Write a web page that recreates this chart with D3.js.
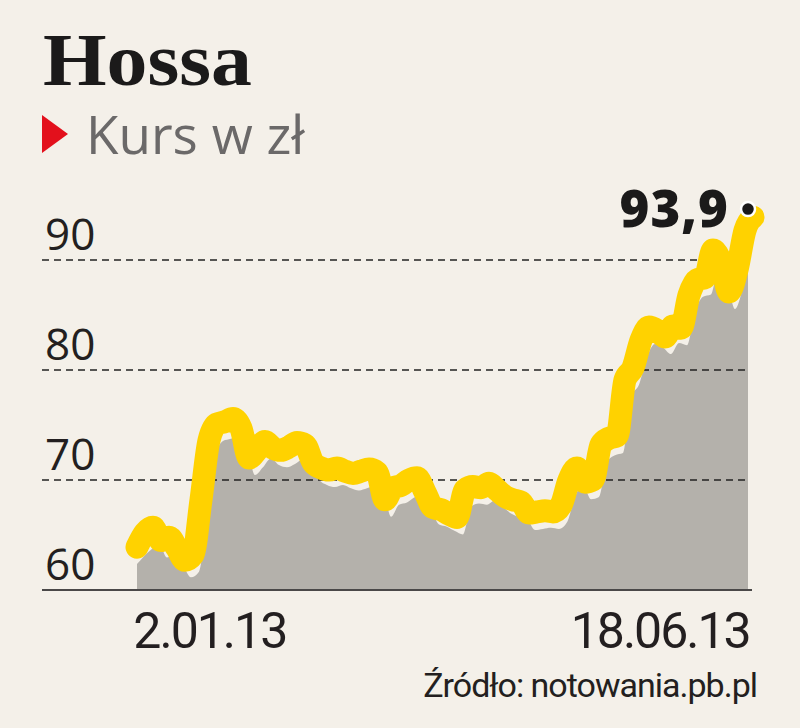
<!DOCTYPE html>
<html>
<head>
<meta charset="utf-8">
<script src="https://cdn.jsdelivr.net/npm/d3@7"></script>
<style>
  html, body { margin: 0; padding: 0; background: #f4f0e9; }
  svg { display: block; }
</style>
</head>
<body>
<svg id="chart" width="800" height="728"></svg>
<script>
// ---- data ----
const title = "Hossa";
const subtitle = "Kurs w zł";
const source = "Źródło: notowania.pb.pl";
const lastLabel = "93,9";
const prices = [
  63.9, 65.2, 65.7, 64.5, 64.8, 63.8, 62.7, 63.2, 68.2, 73.6,
  75.1, 75.3, 75.6, 74.7, 72.0, 72.7, 73.5, 72.9, 72.7, 73.0,
  73.4, 73.2, 71.6, 71.1, 70.9, 71.1, 70.8, 70.6, 70.8, 71.0,
  70.7, 68.2, 69.3, 69.5, 70.0, 70.2, 68.9, 67.5, 67.3, 66.9,
  66.6, 69.1, 69.4, 69.3, 69.7, 69.1, 68.5, 68.2, 68.0, 67.0,
  67.1, 67.2, 67.1, 67.7, 70.0, 71.1, 69.8, 70.0, 73.2, 73.8,
  74.0, 79.1, 80.2, 82.7, 83.9, 83.6, 83.0, 84.0, 83.8, 86.8,
  88.2, 88.4, 90.9, 89.8, 87.1, 89.1, 92.7, 93.9
];
const yTicks = [60, 70, 80, 90];
const xTickLabels = ["2.01.13", "18.06.13"];
const xTickIndex = [9.1, 65.4];

// ---- layout ----
const svg = d3.select("#chart");
const W = 800, H = 728;
svg.append("rect").attr("width", W).attr("height", H).attr("fill", "#f4f0e9");

const x = d3.scaleLinear().domain([0, prices.length - 1]).range([137, 753]);
const y = d3.scaleLinear().domain([60, 90]).range([590, 260]);

// Title
svg.append("text")
  .attr("x", 43).attr("y", 85)
  .attr("font-family", "'Liberation Serif', 'Times New Roman', serif")
  .attr("font-weight", 700)
  .attr("font-size", 73)
  .attr("fill", "#1b1a1a")
  .attr("textLength", 209)
  .attr("lengthAdjust", "spacingAndGlyphs")
  .text(title);

// Subtitle with red triangle
svg.append("path")
  .attr("d", "M42,115 L68,134 L42,153 Z")
  .attr("fill", "#e3101c");
svg.append("text")
  .attr("x", 86).attr("y", 154)
  .attr("font-family", "'Open Sans', sans-serif")
  .attr("font-weight", 500)
  .attr("font-size", 53)
  .attr("fill", "#6b6969")
  .text(subtitle);

// Area (offset shadow beneath the line)
const dx = 6, dy = 17;
const clipId = "areaClip";
svg.append("clipPath").attr("id", clipId)
  .append("rect")
  .attr("x", x(0)).attr("y", 0)
  .attr("width", x(prices.length - 1) - 5 - x(0))
  .attr("height", H);

const area = d3.area()
  .x((d, i) => i === 0 ? x(0) : x(i) + dx)
  .y0(y(60))
  .y1(d => y(d) + dy)
  .curve(d3.curveMonotoneX);
svg.append("path")
  .datum(prices)
  .attr("clip-path", `url(#${clipId})`)
  .attr("d", area)
  .attr("fill", "#b4b1ab");

// Gridlines (dashed) over area
const grid = svg.append("g");
grid.selectAll("line")
  .data(yTicks.filter(t => t !== 60))
  .join("line")
  .attr("x1", 42).attr("x2", 750)
  .attr("y1", d => y(d)).attr("y2", d => y(d))
  .attr("stroke", "#222")
  .attr("stroke-width", 1.5)
  .attr("stroke-dasharray", "7,5");

// Baseline
svg.append("line")
  .attr("x1", 42).attr("x2", 752)
  .attr("y1", y(60)).attr("y2", y(60))
  .attr("stroke", "#4a4848").attr("stroke-width", 2);

// Y labels
svg.append("g").selectAll("text")
  .data(yTicks)
  .join("text")
  .attr("x", 45)
  .attr("y", d => y(d) - 10)
  .attr("font-family", "'Open Sans', sans-serif")
  .attr("font-size", 44)
  .attr("fill", "#231f20")
  .text(d => d);

// Line
const line = d3.line()
  .x((d, i) => x(i))
  .y(d => y(d))
  .curve(d3.curveMonotoneX);
svg.append("path")
  .datum(prices)
  .attr("d", line)
  .attr("fill", "none")
  .attr("stroke", "#ffd200")
  .attr("stroke-width", 23)
  .attr("stroke-linejoin", "round")
  .attr("stroke-linecap", "round");

// End dot
const li = prices.length - 1;
svg.append("circle")
  .attr("cx", x(li) - 5)
  .attr("cy", y(prices[li]) - 8)
  .attr("r", 7)
  .attr("fill", "#1b1a1a")
  .attr("stroke", "#ffffff")
  .attr("stroke-width", 2.5);

// Last value label
svg.append("text")
  .attr("x", x(li) - 24)
  .attr("y", y(prices[li]) + 10)
  .attr("text-anchor", "end")
  .attr("font-family", "'Open Sans', sans-serif")
  .attr("font-weight", 800)
  .attr("font-size", 51)
  .attr("letter-spacing", 1)
  .attr("fill", "#1b1a1a")
  .text(lastLabel);

// X labels
svg.append("g").selectAll("text")
  .data(xTickLabels)
  .join("text")
  .attr("x", (d, i) => x(xTickIndex[i]))
  .attr("y", 648)
  .attr("text-anchor", "middle")
  .attr("font-family", "Roboto, sans-serif")
  .attr("font-size", 50)
  .attr("letter-spacing", -2)
  .attr("fill", "#231f20")
  .text(d => d);

// Source
svg.append("text")
  .attr("x", 757).attr("y", 697)
  .attr("text-anchor", "end")
  .attr("font-family", "Roboto, sans-serif")
  .attr("font-size", 34)
  .attr("letter-spacing", -1)
  .attr("fill", "#231f20")
  .text(source);
</script>
</body>
</html>
